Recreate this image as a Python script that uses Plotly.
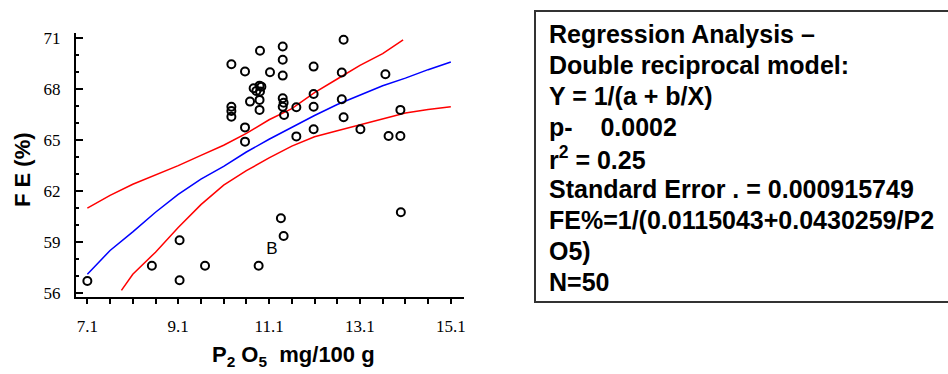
import plotly.graph_objects as go

# ---------------- data ----------------
p2o5 = [7.1, 8.52, 9.13, 9.13, 9.69, 10.87, 11.36, 11.42, 14.0,
        10.27, 10.90, 11.40, 11.40, 10.57, 11.12, 11.40, 10.89, 10.76, 10.90,
        10.68, 10.89, 10.89, 11.40, 11.40, 11.43, 10.27, 10.27, 10.27, 10.57,
        10.57, 11.70, 11.70, 12.74, 12.08, 12.70, 13.66, 12.08, 12.08, 12.70,
        12.74, 12.08, 13.11, 13.99, 13.73, 13.99, 10.82, 10.93, 11.42]
fe_pct = [56.7, 57.6, 59.1, 56.75, 57.6, 57.6, 60.4, 59.35, 60.75,
          69.47, 70.26, 70.51, 69.73, 69.04, 69.0, 68.8, 68.21, 68.06, 67.86,
          67.27, 67.37, 66.78, 67.47, 66.97, 66.48, 66.97, 66.72, 66.38, 65.75,
          64.91, 66.94, 65.22, 70.91, 69.33, 68.98, 68.88, 67.72, 66.97, 67.41,
          66.35, 65.64, 65.64, 66.78, 65.24, 65.24, 67.9, 68.15, 67.2]

# duplicate-point marker "B"
dup_x = [11.16]
dup_y = [58.56]
dup_label = ["B"]

fit_x = [7.1, 7.6, 8.1, 8.6, 9.1, 9.6, 10.1, 10.6, 11.1, 11.6, 12.1, 12.6,
         13.1, 13.6, 14.1, 14.6, 15.1]
fit_fe = [57.1, 58.5, 59.6, 60.75, 61.8, 62.7, 63.45, 64.3, 65.05, 65.75,
          66.45, 67.1, 67.65, 68.2, 68.65, 69.15, 69.6]

upper_x = [7.1, 7.6, 8.1, 8.6, 9.1, 9.6, 10.1, 10.6, 11.1, 11.6, 12.1, 12.6,
           13.1, 13.6, 14.05]
upper_fe = [61.0, 61.75, 62.4, 62.95, 63.5, 64.1, 64.7, 65.4, 66.2, 66.85,
            67.8, 68.6, 69.4, 70.1, 70.9]

lower_x = [7.85, 8.1, 8.6, 9.1, 9.6, 10.1, 10.6, 11.1, 11.6, 12.1, 12.6, 13.1,
           13.6, 14.1, 14.6, 15.1]
lower_fe = [56.15, 57.1, 58.4, 59.85, 61.2, 62.35, 63.2, 63.95, 64.65, 65.2,
            65.55, 65.9, 66.25, 66.6, 66.8, 66.97]

box_lines = [
    "Regression Analysis \u2013",
    "Double reciprocal model:",
    "Y = 1/(a + b/X)",
    "p-\u00a0\u00a0\u00a0\u00a00.0002",
    "r<sup>2</sup> = 0.25",
    "Standard Error . = 0.000915749",
    "FE%=1/(0.0115043+0.0430259/P2",
    "O5)",
    "N=50",
]

# ---------------- figure ----------------
W, H = 948, 374
ML, MR, MT, MB = 76, 484, 33, 77
PW, PH = W - ML - MR, H - MT - MB


def px_x(px):
    return (px - ML) / PW


def px_y(py):
    return (H - MB - py) / PH


fig = go.Figure()

fig.add_trace(go.Scatter(x=upper_x, y=upper_fe, mode="lines",
                         line=dict(color="#ff0000", width=1.5), hoverinfo="skip"))
fig.add_trace(go.Scatter(x=lower_x, y=lower_fe, mode="lines",
                         line=dict(color="#ff0000", width=1.5), hoverinfo="skip"))
fig.add_trace(go.Scatter(x=fit_x, y=fit_fe, mode="lines",
                         line=dict(color="#0000ff", width=1.5), hoverinfo="skip"))
fig.add_trace(go.Scatter(x=p2o5, y=fe_pct, mode="markers",
                         marker=dict(symbol="circle-open", size=8, color="black",
                                     line=dict(width=2, color="black"))))
fig.add_trace(go.Scatter(x=dup_x, y=dup_y, mode="text", text=dup_label,
                         textfont=dict(family="Liberation Sans", size=17, color="black")))

axis_font = dict(family="Liberation Serif", size=17, color="black")

fig.update_xaxes(range=[6.85, 15.39], tickmode="linear", tick0=7.1, dtick=2,
                 tickformat=".1f", ticks="outside", ticklen=5, tickwidth=1.5,
                 tickcolor="black", showline=True, linecolor="black", linewidth=2,
                 showgrid=False, zeroline=False, tickfont=axis_font,
                 ticklabelstandoff=8,
                 minor=dict(dtick=0.5, tick0=7.1, ticks="outside", ticklen=5,
                            tickwidth=1.5, tickcolor="black", showgrid=False))
fig.update_yaxes(range=[55.76, 71.31], tickmode="linear", tick0=56, dtick=3,
                 ticks="inside", ticklen=7, tickwidth=1.5, tickcolor="black",
                 showline=True, linecolor="black", linewidth=2, showgrid=False,
                 zeroline=False, tickfont=axis_font, ticklabelstandoff=10,
                 minor=dict(dtick=1, tick0=56, ticks="inside", ticklen=3,
                            tickwidth=1.5, tickcolor="black", showgrid=False))

annotations = [
    dict(text="<b>F E (%)</b>", xref="paper", yref="paper",
         x=px_x(22), y=px_y(170), textangle=-90, showarrow=False,
         font=dict(family="Liberation Sans", size=22, color="black"),
         xanchor="center", yanchor="middle"),
    dict(text="<b>P<sub>2</sub>\u00a0O<sub>5</sub>\u00a0\u00a0mg/100\u00a0g</b>",
         xref="paper", yref="paper",
         x=px_x(293), y=px_y(356), showarrow=False,
         font=dict(family="Liberation Sans", size=22, color="black"),
         xanchor="center", yanchor="middle"),
]

line_y0, line_dy = 34, 31
for i, t in enumerate(box_lines):
    annotations.append(dict(
        text="<b>" + t + "</b>", xref="paper", yref="paper",
        x=px_x(547), y=px_y(line_y0 + i * line_dy), showarrow=False,
        xanchor="left", yanchor="middle", align="left",
        font=dict(family="Liberation Sans", size=25, color="black")))

fig.update_layout(
    width=W, height=H, margin=dict(l=ML, r=MR, t=MT, b=MB),
    paper_bgcolor="white", plot_bgcolor="white", showlegend=False,
    annotations=annotations,
    shapes=[dict(type="rect", xref="paper", yref="paper",
                 x0=px_x(535), x1=px_x(952), y0=px_y(302), y1=px_y(11),
                 line=dict(color="#333333", width=2), fillcolor="rgba(0,0,0,0)")],
)

fig.write_html("out.html")
